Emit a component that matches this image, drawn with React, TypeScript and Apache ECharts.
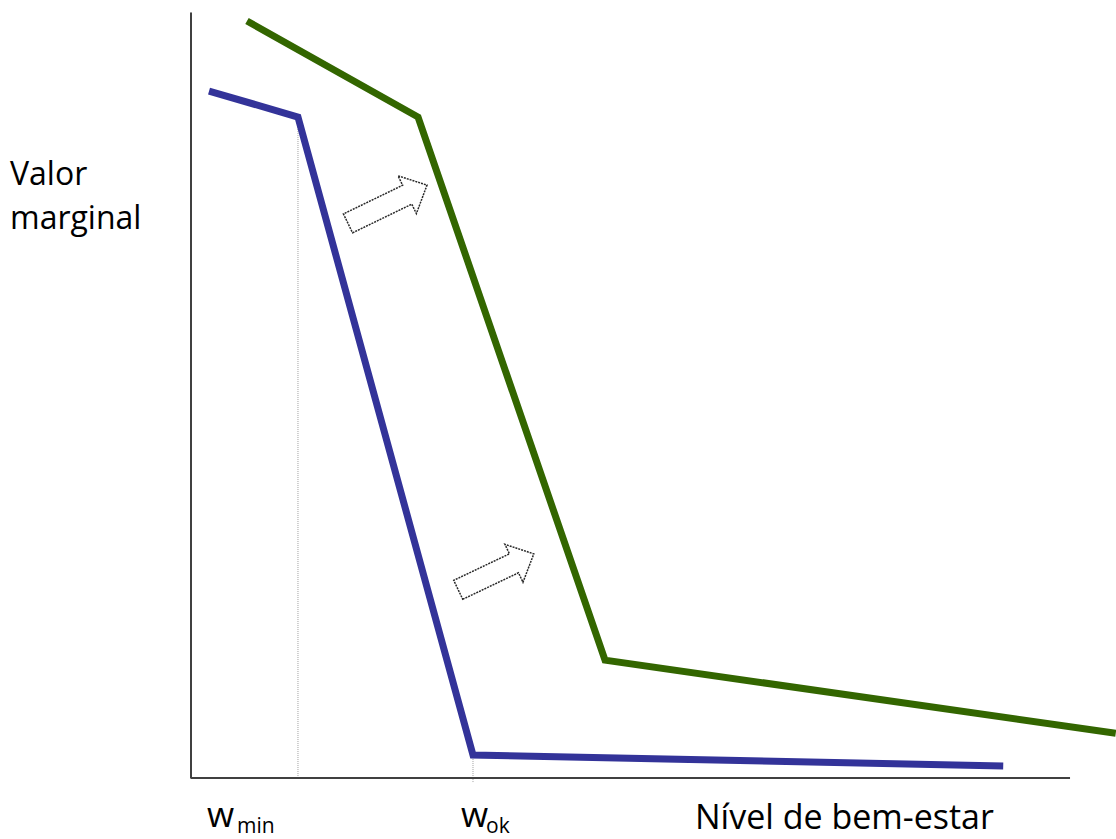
import React, { useEffect, useRef } from "react";
import * as echarts from "echarts";

// Blue curve (before) – [nível de bem-estar, valor marginal]
const blueCurve: number[][] = [
  [2.05, 89.8],
  [12.17, 86.4],
  [32.08, 3.0],
  [92.4, 1.57],
];

// Green curve (after shift)
const greenCurve: number[][] = [
  [6.37, 98.95],
  [25.83, 86.4],
  [47.1, 15.4],
  [105.2, 5.85],
];

// Horizontal axis line extent
const xAxisLine: number[][] = [
  [0, 0],
  [100, 0],
];

// Dotted guide lines
const wMinGuide: number[][] = [
  [12.17, 86.4],
  [12.17, 0],
];
const wOkGuide: number[][] = [
  [32.08, 3.0],
  [32.08, -0.6],
];

// Shift arrows: [tailX, tailY, tipX, tipY]
const shiftArrows: number[][] = [
  [17.86, 72.5, 26.85, 77.5],
  [30.4, 24.6, 39.0, 29.3],
];

const FONT = "'Open Sans', 'Noto Sans', sans-serif";

export default function App() {
  const ref = useRef<HTMLDivElement>(null);

  useEffect(() => {
    if (!ref.current) return;
    const chart = echarts.init(ref.current, undefined, { renderer: "svg" });

    const renderArrow = (_params: any, api: any) => {
      const tail = api.coord([api.value(0), api.value(1)]);
      const tip = api.coord([api.value(2), api.value(3)]);
      const dx = tip[0] - tail[0];
      const dy = tip[1] - tail[1];
      const len = Math.sqrt(dx * dx + dy * dy);
      const ux = dx / len;
      const uy = dy / len;
      const nx = -uy;
      const ny = ux;
      const h = 10.5;
      const H = 21;
      const L = 22;
      const bx = tip[0] - ux * L;
      const by = tip[1] - uy * L;
      const points = [
        [tail[0] + nx * h, tail[1] + ny * h],
        [bx + nx * h, by + ny * h],
        [bx + nx * H, by + ny * H],
        [tip[0], tip[1]],
        [bx - nx * H, by - ny * H],
        [bx - nx * h, by - ny * h],
        [tail[0] - nx * h, tail[1] - ny * h],
      ];
      return {
        type: "polygon",
        shape: { points },
        style: {
          fill: "#ffffff",
          stroke: "#2a2a2a",
          lineWidth: 1.5,
          lineDash: [2, 1],
        },
      };
    };

    const axisCommon = {
      type: "value" as const,
      min: 0,
      splitLine: { show: false },
      axisTick: { show: false },
      axisLabel: { show: false },
    };

    chart.setOption({
      animation: false,
      backgroundColor: "#ffffff",
      grid: { left: 191, right: 0, top: 13, bottom: 61 },
      xAxis: {
        ...axisCommon,
        max: 105.23,
        axisLine: { show: false },
      },
      yAxis: {
        ...axisCommon,
        max: 100,
        axisLine: { show: true, onZero: false, lineStyle: { color: "#000000", width: 1.5 } },
      },
      series: [
        {
          type: "line",
          data: xAxisLine,
          symbol: "none",
          clip: false,
          lineStyle: { color: "#404040", width: 2 },
          z: 2,
        },
        {
          type: "line",
          data: wMinGuide,
          symbol: "none",
          clip: false,
          lineStyle: { color: "#a0a0a0", width: 1, type: "dotted" },
          z: 1,
        },
        {
          type: "line",
          data: wOkGuide,
          symbol: "none",
          clip: false,
          lineStyle: { color: "#a0a0a0", width: 1, type: "dotted" },
          z: 1,
        },
        {
          type: "line",
          data: blueCurve,
          symbol: "none",
          clip: false,
          lineStyle: { color: "#333399", width: 7, join: "miter" },
          z: 3,
        },
        {
          type: "line",
          data: greenCurve,
          symbol: "none",
          clip: false,
          lineStyle: { color: "#336600", width: 7, join: "miter" },
          z: 3,
        },
        {
          type: "custom",
          data: shiftArrows,
          renderItem: renderArrow,
          clip: false,
          z: 4,
        },
      ],
      graphic: [
        {
          type: "text",
          left: 10,
          top: 150,
          style: {
            text: "Valor\nmarginal",
            font: `32px ${FONT}`,
            lineHeight: 44,
            fill: "#000",
          },
        },
        {
          type: "text",
          left: 695,
          top: 799,
          style: { text: "Nível de bem-estar", font: `34px ${FONT}`, fill: "#000" },
        },
        {
          type: "text",
          left: 207,
          top: 796,
          style: { text: "w", font: `35px ${FONT}`, fill: "#000" },
        },
        {
          type: "text",
          left: 237,
          top: 814,
          style: { text: "min", font: `21px ${FONT}`, lineHeight: 21, fill: "#000" },
        },
        {
          type: "text",
          left: 461,
          top: 796,
          style: { text: "w", font: `35px ${FONT}`, fill: "#000" },
        },
        {
          type: "text",
          left: 486,
          top: 814,
          style: { text: "ok", font: `21px ${FONT}`, lineHeight: 21, fill: "#000" },
        },
      ],
    });

    return () => chart.dispose();
  }, []);

  return (
    <div
      ref={ref}
      style={{ position: "absolute", left: 0, top: 0, width: 1116, height: 839 }}
    />
  );
}
